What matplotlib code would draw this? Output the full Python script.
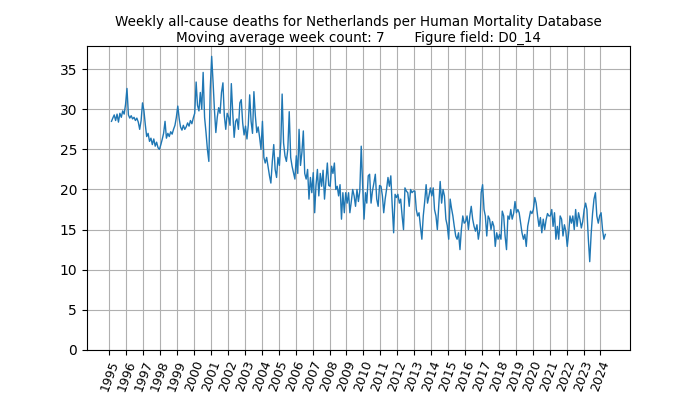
import numpy as np
import pandas as pd
import matplotlib
matplotlib.use('Agg')
import matplotlib.pyplot as plt

# -------------------------------------------------------------
# DATA (roughly one value per month)
# -------------------------------------------------------------
start_month = '1995-02-01'
values = [
    # 1995 (Feb-Dec)
    28.5, 28.9, 29.3, 28.6, 29.4, 28.4, 29.5, 29.0, 29.8, 29.4, 30.6,
    # 1996
    32.6, 29.3, 28.9, 29.2, 28.8, 29.0, 28.6, 28.9, 28.4, 27.5, 28.6, 30.8,
    # 1997
    29.8, 28.0, 26.6, 27.0, 26.0, 26.4, 25.6, 26.3, 25.4, 25.9, 25.2, 25.0,
    # 1998
    25.6, 26.3, 27.0, 28.5, 26.4, 27.0, 26.6, 27.2, 26.9, 27.5, 28.0, 29.0,
    # 1999
    30.4, 28.8, 27.8, 27.4, 28.0, 27.5, 27.8, 28.3, 27.9, 28.6, 28.2, 28.9,
    # 2000
    29.5, 33.4, 30.5, 29.8, 32.1, 30.0, 34.6, 29.0, 27.1, 25.0, 23.5, 32.5,
    # 2001
    36.6, 33.3, 30.0, 27.1, 29.0, 30.2, 29.5, 32.1, 33.3, 29.2, 27.5, 29.5,
    # 2002
    29.0, 28.0, 33.2, 29.5, 26.5, 28.5, 28.8, 27.5, 30.8, 31.2, 28.3, 26.8,
    # 2003
    27.9, 26.3, 28.0, 31.8, 28.5, 27.0, 32.2, 29.2, 27.1, 27.8, 26.5, 25.0,
    # 2004
    28.5, 24.0, 23.3, 24.0, 22.9, 21.7, 20.8, 23.5, 25.6, 22.5, 21.5, 24.0,
    # 2005
    23.0, 26.0, 31.9, 25.8, 24.2, 23.5, 25.0, 29.7, 24.0, 22.9, 22.1, 21.3,
    # 2006
    24.2, 22.0, 27.5, 23.0, 24.6, 27.3, 22.0, 21.3, 22.5, 18.8, 21.5, 19.6,
    # 2007
    22.1, 17.1, 20.5, 22.5, 19.2, 22.0, 20.4, 22.4, 18.8, 21.0, 23.3, 20.5,
    # 2008
    20.4, 22.9, 22.0, 23.3, 20.0, 20.4, 19.2, 20.6, 16.3, 19.6, 17.1, 19.6,
    # 2009
    18.3, 19.6, 17.1, 18.5, 20.0, 19.2, 17.9, 20.0, 18.5, 19.8, 25.4, 20.6,
    # 2010
    16.3, 19.6, 18.3, 21.7, 21.9, 18.3, 19.8, 20.8, 21.9, 18.8, 17.9, 20.5,
    # 2011
    20.4, 19.2, 17.1, 18.8, 20.0, 21.5, 20.4, 21.7, 17.9, 14.6, 19.4, 19.0,
    # 2012
    19.4, 18.3, 18.8, 16.7, 15.0, 20.2, 19.8, 19.6, 17.9, 20.0, 19.6, 19.8,
    # 2013
    19.8, 17.5, 16.7, 17.1, 15.4, 13.8, 16.7, 18.5, 20.6, 18.3, 19.2, 20.2,
    # 2014
    19.2, 20.2, 17.5, 16.7, 15.0, 18.0, 21.0, 18.3, 20.0, 19.2, 16.3, 15.5,
    # 2015
    13.8, 18.8, 17.7, 16.7, 15.4, 14.2, 13.8, 14.6, 12.5, 15.0, 16.7, 15.8,
    # 2016
    16.0, 16.7, 15.0, 16.7, 17.9, 16.3, 15.4, 14.8, 15.6, 13.8, 15.0, 19.6,
    # 2017
    20.6, 17.5, 16.7, 14.2, 16.7, 16.3, 15.0, 16.0, 15.4, 12.9, 14.6, 13.8,
    # 2018
    14.4, 13.8, 17.3, 16.7, 14.2, 12.5, 16.7, 16.3, 17.5, 16.3, 17.0, 18.5,
    # 2019
    17.1, 17.5, 17.1, 15.8, 14.6, 13.8, 14.4, 12.9, 15.4, 16.3, 17.3, 17.0,
    # 2020
    17.5, 19.0, 18.3, 16.7, 15.4, 16.5, 14.6, 16.3, 15.0, 16.2, 17.0, 16.7,
    # 2021
    16.7, 17.5, 15.4, 17.1, 13.8, 15.4, 13.8, 16.7, 16.3, 14.2, 15.6, 14.8,
    # 2022
    12.9, 14.6, 16.7, 15.8, 16.7, 15.0, 17.5, 15.4, 17.1, 16.3, 15.2, 16.0,
    # 2023
    17.5, 18.3, 17.5, 13.8, 11.0, 14.5, 17.0, 18.8, 19.6, 16.7, 15.8, 16.7,
    # 2024 (Jan-Apr)
    17.1, 15.0, 13.8, 14.4,
]
tick_years = list(range(1995, 2025))

title_line1 = 'Weekly all-cause deaths for Netherlands per Human Mortality Database'
title_line2 = 'Moving average week count: 7       Figure field: D0_14'

# -------------------------------------------------------------
# PLOT
# -------------------------------------------------------------
dates = pd.date_range(start_month, periods=len(values), freq='MS') + pd.Timedelta(days=14)
tick_dates = [pd.Timestamp(f'{y}-01-01') for y in tick_years]

fig = plt.figure(figsize=(7, 3.94), dpi=100)
ax = fig.add_axes([0.124, 0.112, 0.776, 0.771])

ax.plot(dates, values, color='#1f77b4', linewidth=1.0)
ax.set_ylim(bottom=0)
ax.grid(True)

ax.set_xticks(tick_dates)
ax.set_xticklabels([str(y) for y in tick_years], rotation=70, fontsize=9)
ax.tick_params(axis='x', pad=3)
ax.set_title(title_line1 + '\n' + title_line2, fontsize=9.75, pad=3)

fig.savefig('out.png', dpi=100)
